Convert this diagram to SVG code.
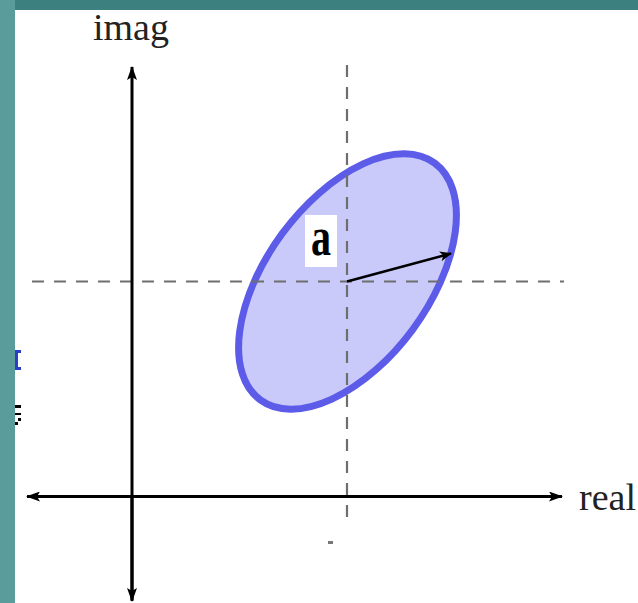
<svg xmlns="http://www.w3.org/2000/svg" width="638" height="603" viewBox="0 0 638 603">
  <style>
    .axis { stroke: #000; stroke-width: 3; fill: none; }
    .dash { stroke: #6e6e6e; stroke-width: 2.2; stroke-dasharray: 12 10; fill: none; }
    .lbl { font-family: "Liberation Serif", "Times New Roman", serif; font-size: 38px; fill: #222; }
  </style>
  <defs>
    <marker id="ah" viewBox="0 0 12 10" refX="11" refY="5" markerWidth="12" markerHeight="10" markerUnits="userSpaceOnUse" orient="auto">
      <path d="M0,0 L12,5 L0,10 L3,5 Z" fill="#000"/>
    </marker>
    <marker id="ahv" viewBox="0 0 14 10" refX="13" refY="5" markerWidth="14" markerHeight="10" markerUnits="userSpaceOnUse" orient="auto">
      <path d="M0,0 L14,5 L0,10 L3,5 Z" fill="#000"/>
    </marker>
  </defs>
  <rect x="0" y="0" width="638" height="603" fill="#ffffff"/>
  <rect x="0" y="0" width="638" height="10" fill="#3d8080"/>
  <rect x="0" y="0" width="15" height="603" fill="#5a9b9b"/>

  <!-- slide remnants -->
  <g id="remnants">
    <path d="M15,350 H21 V353 H18 V367 H21 V370 H15 Z" fill="#2a3fc8"/>
    <rect x="15" y="405" width="6" height="3" fill="#000"/>
    <rect x="15" y="413" width="6" height="2" fill="#000"/>
    <rect x="18" y="418" width="3" height="3" fill="#000"/>
    <rect x="15" y="422" width="3" height="3" fill="#000"/>
  </g>

  <g id="ellipse">
    <ellipse cx="347.5" cy="281.5" rx="147" ry="81" transform="rotate(-53.6 347.5 281.5)" fill="#c9c9fa" stroke="#5c5ce8" stroke-width="7"/>
  </g>

  <g id="connectors">
    <line class="dash" x1="32" y1="281.5" x2="564" y2="281.5"/>
    <line class="dash" x1="347" y1="65" x2="347" y2="524"/>
    <rect x="328" y="541" width="5" height="3" fill="#777"/>
    <line class="axis" x1="132" y1="600" x2="132" y2="67" marker-end="url(#ahv)"/>
    <line class="axis" x1="132" y1="496" x2="132" y2="601" marker-end="url(#ahv)"/>
    <line class="axis" x1="40" y1="496.5" x2="562" y2="496.5" marker-end="url(#ahv)"/>
    <line class="axis" x1="140" y1="496.5" x2="27" y2="496.5" marker-end="url(#ahv)"/>
    <line x1="347" y1="281.5" x2="451" y2="253.5" stroke="#000" stroke-width="2.5" marker-end="url(#ah)"/>
  </g>

  <g id="label-a">
    <rect x="305" y="215" width="32" height="52" fill="#ffffff"/>
    <text transform="translate(321,255) scale(1,1.35)" text-anchor="middle" font-family="'Liberation Serif', 'Times New Roman', serif" font-weight="bold" font-size="40" fill="#000">a</text>
  </g>

  <g id="label-imag">
    <text class="lbl" x="93" y="40">imag</text>
  </g>
  <g id="label-real">
    <text class="lbl" x="579" y="510">real</text>
  </g>
</svg>
